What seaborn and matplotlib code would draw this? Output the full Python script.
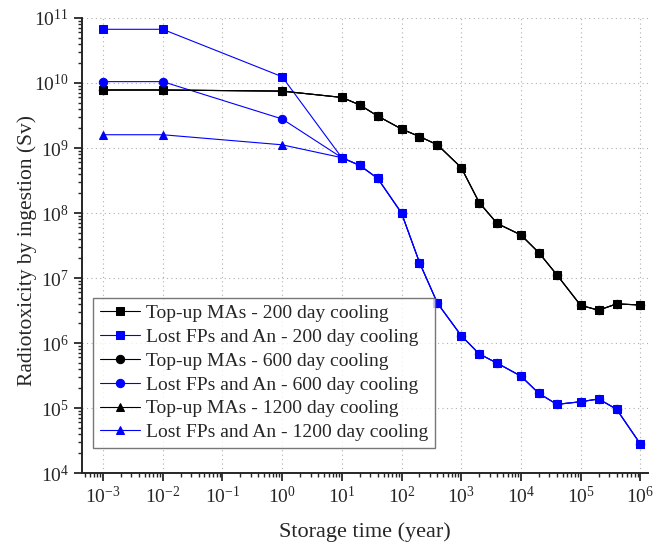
import numpy as np
import pandas as pd
import matplotlib
matplotlib.use("Agg")
import matplotlib.pyplot as plt
import seaborn as sns
from matplotlib.ticker import LogLocator, NullFormatter

# storage time points (year)
years = [1e-3, 1e-2, 1e0, 1e1, 2e1, 4e1, 1e2, 2e2, 4e2, 1e3, 2e3, 4e3,
         1e4, 2e4, 4e4, 1e5, 2e5, 4e5, 1e6]

# top-up minor actinides (same for all cooling times)
topup = [7.8e9, 7.8e9, 7.5e9, 6.0e9, 4.6e9, 3.1e9, 1.96e9, 1.5e9, 1.12e9,
         5.0e8, 1.45e8, 6.9e7, 4.6e7, 2.45e7, 1.12e7, 3.8e6, 3.2e6, 4.0e6, 3.85e6]

# lost FPs and An: first three points depend on cooling time, rest shared
lost_tail = [7.1e8, 5.4e8, 3.4e8, 1.0e8, 1.73e7, 4.1e6, 1.3e6, 6.8e5, 4.9e5,
             3.1e5, 1.68e5, 1.14e5, 1.25e5, 1.38e5, 9.6e4, 2.8e4]
lost_head_200 = [6.7e10, 6.7e10, 1.25e10]
lost_head_600 = [1.05e10, 1.05e10, 2.8e9]
lost_head_1200 = [1.6e9, 1.6e9, 1.12e9]

cooling = ["200", "600", "1200"]
markers = ["s", "o", "^"]
heads = [lost_head_200, lost_head_600, lost_head_1200]

sns.set_style("ticks")
plt.rcParams['font.family'] = ['Liberation Serif', 'DejaVu Serif']
plt.rcParams['mathtext.fontset'] = 'stix'

fig = plt.figure(figsize=(6.62, 5.45), dpi=100)
ax = fig.add_axes([0.124, 0.132, 0.855, 0.835])

for c, m, head in zip(cooling, markers, heads):
    df_top = pd.DataFrame({"year": years, "value": topup})
    sns.lineplot(data=df_top, x="year", y="value", ax=ax, color="black",
                 marker=m, markersize=6, markeredgecolor="black", lw=0.8,
                 sort=False, estimator=None, label=f"Top-up MAs - {c} day cooling")
    df_lost = pd.DataFrame({"year": years, "value": head + lost_tail})
    sns.lineplot(data=df_lost, x="year", y="value", ax=ax, color="#0000ff",
                 marker=m, markersize=6, markeredgecolor="#0000ff", lw=0.8,
                 sort=False, estimator=None, label=f"Lost FPs and An - {c} day cooling")

ax.set_xscale("log")
ax.set_yscale("log")
ax.set_xlim(10 ** -3.35, 10 ** 6.13)
ax.set_ylim(1e4, 1e11)

ax.xaxis.set_major_locator(LogLocator(base=10, numticks=20))
ax.xaxis.set_minor_locator(LogLocator(base=10, subs=np.arange(2, 10), numticks=20))
ax.yaxis.set_major_locator(LogLocator(base=10, numticks=20))
ax.yaxis.set_minor_locator(LogLocator(base=10, subs=np.arange(2, 10), numticks=20))
ax.xaxis.set_minor_formatter(NullFormatter())
ax.yaxis.set_minor_formatter(NullFormatter())

ax.grid(True, which="major", ls=(0, (1, 3)), color="#b0b0b0", lw=0.8)
ax.tick_params(which="major", direction="out", length=6, width=1.3, labelsize=14)
ax.tick_params(which="minor", direction="out", length=3, width=1.0)
for s in ["left", "bottom"]:
    ax.spines[s].set_linewidth(1.4)
ax.spines["top"].set_visible(False)
ax.spines["right"].set_visible(False)

ax.set_xlabel("Storage time (year)", fontsize=16)
ax.set_ylabel("Radiotoxicity by ingestion (Sv)", fontsize=15.5)
ax.xaxis.set_label_coords(0.5, -0.108)
ax.yaxis.set_label_coords(-0.08, 0.49)

leg = ax.legend(loc="lower left", bbox_to_anchor=(0.019, 0.055), fontsize=14,
                frameon=True, fancybox=False, edgecolor="#555555",
                handlelength=2.1, labelspacing=0.32, borderpad=0.35,
                handletextpad=0.3, borderaxespad=0)
leg.get_frame().set_linewidth(1.0)

fig.savefig("out.png", dpi=100)
